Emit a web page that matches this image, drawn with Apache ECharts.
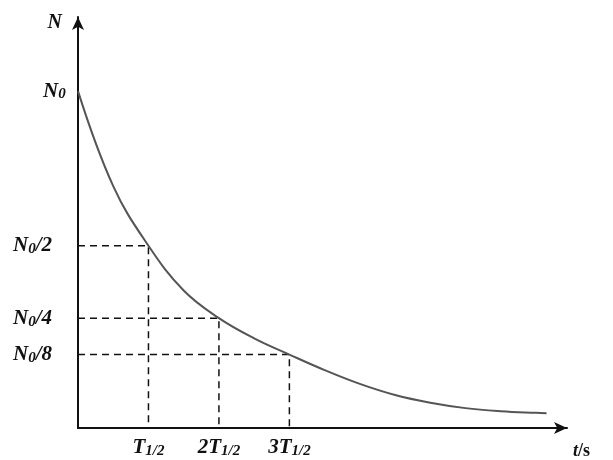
<!DOCTYPE html>
<html>
<head>
<meta charset="utf-8">
<script src="https://cdn.jsdelivr.net/npm/echarts@6/dist/echarts.min.js"></script>
<style>
  html, body { margin: 0; padding: 0; background: #fff; }
  #chart { width: 613px; height: 460px; }
</style>
</head>
<body>
<div id="chart"></div>
<script>
// decay curve, t in units of T1/2, N in units of N0
var tData = [0, 0.5, 1, 1.5, 2, 2.5, 3, 3.5, 4, 4.5, 5, 5.5, 6, 6.5, 6.65];
var nData = [1, 0.718, 0.541, 0.408, 0.326, 0.266, 0.218, 0.172, 0.131, 0.098, 0.075, 0.059, 0.050, 0.045, 0.044];

// guide lines (half-life points)
var halfT = [1, 2, 3];
var halfN = [0.541, 0.326, 0.218];

// tick labels
var xTickVals = [1, 2, 3];
var xTickLabels = ['{b|T}{s|1/2}', '{b|2T}{s|1/2}', '{b|3T}{s|1/2}'];
var yTickVals = [1, 0.541, 0.326, 0.218];
var yTickLabels = ['{p|}{b|N}{s|0}', '{b|N}{s|0}{b|/2}', '{b|N}{s|0}{b|/4}', '{b|N}{s|0}{b|/8}'];

var serif = 'Liberation Serif';
var rich = {
    b: { fontFamily: serif, fontStyle: 'italic', fontWeight: 'bold', fontSize: 21, color: '#111', lineHeight: 24 },
    s: { fontFamily: serif, fontStyle: 'italic', fontWeight: 'bold', fontSize: 15, color: '#111', lineHeight: 24, padding: [7, 0, 0, 0] },
    p: { width: 30 }
};

var curve = tData.map(function (t, i) { return [t, nData[i]]; });

var series = [{
    type: 'line',
    data: curve,
    smooth: 0.4,
    symbol: 'none',
    lineStyle: { color: '#555', width: 2 },
    z: 3
}];
halfT.forEach(function (t, i) {
    series.push({
        type: 'line',
        data: [[0, halfN[i]], [t, halfN[i]], [t, 0]],
        symbol: 'none',
        lineStyle: { color: '#111', width: 1.5, type: [7, 5] },
        z: 2
    });
});

var chart = echarts.init(document.getElementById('chart'));
chart.setOption({
    animation: false,
    backgroundColor: '#fff',
    grid: { left: 78, right: 46, top: 17, bottom: 28 },
    xAxis: {
        type: 'value',
        min: 0,
        max: 6.94,
        name: '{i|t}{n|/s}',
        nameLocation: 'end',
        nameGap: 6,
        nameTextStyle: {
            verticalAlign: 'top',
            align: 'left',
            padding: [14, 0, 0, 0],
            rich: {
                i: { fontFamily: serif, fontStyle: 'italic', fontWeight: 'bold', fontSize: 18, color: '#111' },
                n: { fontFamily: serif, fontWeight: 'bold', fontSize: 18, color: '#111' }
            }
        },
        axisLine: { show: true, symbol: ['none', 'arrow'], symbolSize: [9, 13], lineStyle: { color: '#111', width: 2 } },
        axisTick: { show: false },
        splitLine: { show: false },
        axisLabel: {
            customValues: xTickVals,
            margin: 8,
            rich: rich,
            formatter: function (v) { return xTickLabels[xTickVals.indexOf(v)] || ''; }
        }
    },
    yAxis: {
        type: 'value',
        min: 0,
        max: 1.22,
        name: 'N',
        nameLocation: 'end',
        nameGap: -16,
        nameTextStyle: {
            align: 'right',
            padding: [0, 16, 0, 0],
            fontFamily: serif, fontStyle: 'italic', fontWeight: 'bold', fontSize: 20, color: '#111'
        },
        axisLine: { show: true, symbol: ['none', 'arrow'], symbolSize: [9, 13], lineStyle: { color: '#111', width: 2 } },
        axisTick: { show: false },
        splitLine: { show: false },
        axisLabel: {
            customValues: yTickVals,
            align: 'left',
            margin: 65,
            rich: rich,
            formatter: function (v) { return yTickLabels[yTickVals.indexOf(v)] || ''; }
        }
    },
    series: series
});
</script>
</body>
</html>
